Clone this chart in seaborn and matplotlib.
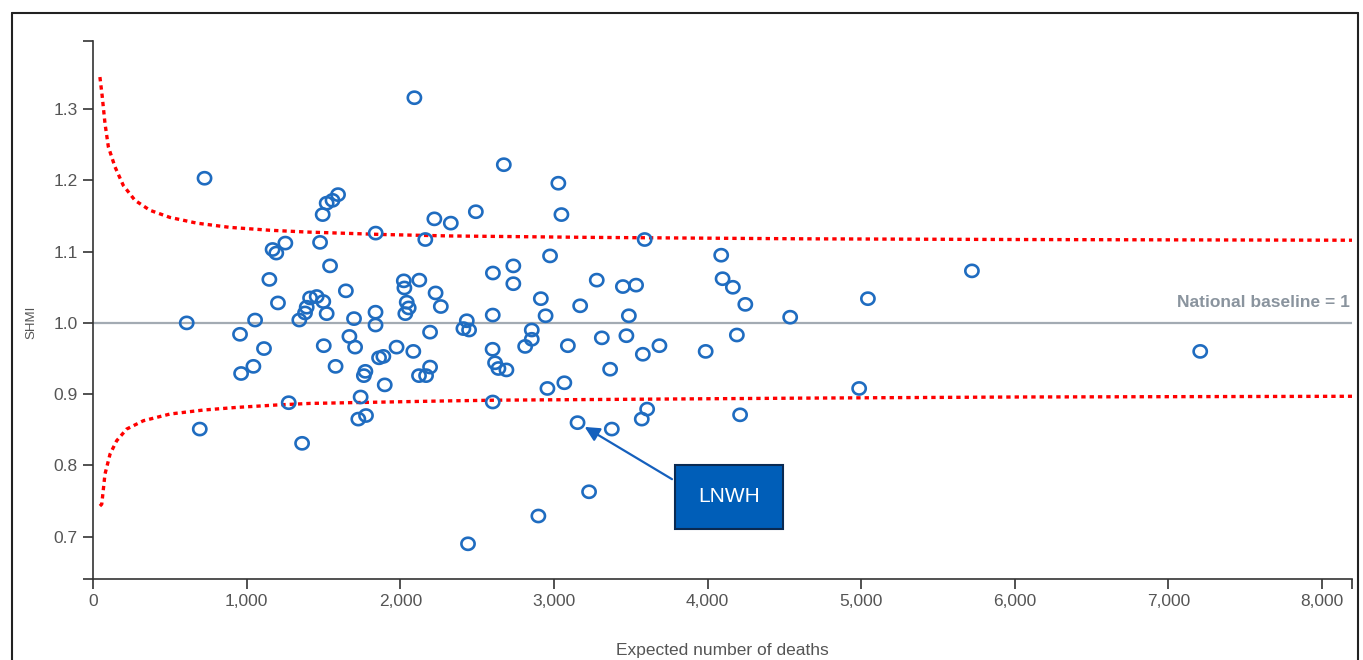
import matplotlib.pyplot as plt
import numpy as np
import seaborn as sns
from matplotlib.lines import Line2D
from matplotlib.path import Path
from matplotlib.ticker import FixedLocator

# values
expected_deaths = [610, 726, 695, 957, 964, 1044, 1055, 1113, 1148, 1169, 1193, 1252, 1204, 1274, 1361,
                   1343, 1380, 1391, 1413, 1456, 1499, 1521, 1478, 1495, 1521, 1559, 1595, 1543, 1502, 1579,
                   1646, 1669, 1699, 1706, 1727, 1742, 1763, 1773, 1777, 1840, 1839, 1839, 1862, 1890, 1899,
                   1976, 2023, 2027, 2033, 2042, 2055, 2085, 2092, 2124, 2122, 2168, 2163, 2194, 2194, 2222,
                   2230, 2264, 2329, 2411, 2433, 2448, 2492, 2441, 2603, 2601, 2602, 2602, 2617, 2639, 2674,
                   2691, 2736, 2736, 2813, 2856, 2856, 2899, 2915, 2946, 2958, 2975, 3029, 3049, 3068, 3091,
                   3171, 3154, 3229, 3279, 3312, 3366, 3377, 3449, 3472, 3488, 3535, 3579, 3572, 3591, 3607,
                   3687, 3988, 4089, 4098, 4165, 4191, 4212, 4246, 4538, 4987, 5044, 5721, 7207]
shmi = [1.000, 1.203, 0.851, 0.984, 0.929, 0.939, 1.004, 0.964, 1.061, 1.103, 1.098, 1.112, 1.028, 0.888, 0.831,
        1.004, 1.014, 1.022, 1.035, 1.037, 1.030, 1.013, 1.113, 1.152, 1.168, 1.172, 1.180, 1.080, 0.968, 0.939,
        1.045, 0.981, 1.006, 0.966, 0.865, 0.896, 0.926, 0.932, 0.870, 1.126, 1.015, 0.997, 0.951, 0.953, 0.913,
        0.966, 1.059, 1.049, 1.013, 1.029, 1.021, 0.960, 1.316, 1.060, 0.926, 0.926, 1.117, 0.987, 0.938, 1.146,
        1.042, 1.023, 1.140, 0.992, 1.003, 0.990, 1.156, 0.690, 1.070, 0.963, 1.011, 0.889, 0.944, 0.936, 1.222,
        0.934, 1.080, 1.055, 0.967, 0.990, 0.977, 0.729, 1.034, 1.010, 0.908, 1.094, 1.196, 1.152, 0.916, 0.968,
        1.024, 0.860, 0.763, 1.060, 0.979, 0.935, 0.851, 1.051, 0.982, 1.010, 1.053, 0.956, 0.865, 1.117, 0.879,
        0.968, 0.960, 1.095, 1.062, 1.050, 0.983, 0.871, 1.026, 1.008, 0.908, 1.034, 1.073, 0.960]

upper_x = [45, 60, 78, 100, 143, 197, 273, 371, 501, 675, 892, 1152, 1391, 1890, 2324, 3236, 4603, 6000, 8195]
upper_y = [1.345, 1.318, 1.280, 1.247, 1.219, 1.193, 1.172, 1.158, 1.148, 1.140, 1.134, 1.130, 1.1275, 1.124,
           1.122, 1.120, 1.118, 1.117, 1.116]
lower_x = [45, 57, 78, 111, 154, 219, 328, 501, 718, 935, 1196, 1413, 2324, 2650, 4603, 6000, 8195]
lower_y = [0.743, 0.7456, 0.7878, 0.8159, 0.8346, 0.851, 0.8627, 0.8721, 0.8777, 0.8814, 0.8848, 0.887,
           0.8906, 0.8916, 0.8944, 0.896, 0.897]

x_ticks = [0, 1000, 2000, 3000, 4000, 5000, 6000, 7000, 8000]
y_ticks = [0.7, 0.8, 0.9, 1.0, 1.1, 1.2, 1.3]
baseline = 1.0
lnwh_x, lnwh_y = 3154, 0.860

point_col = "#1F6CC0"
axis_col = "#333333"
tick_col = "#555555"

sns.set_style("white")
plt.rcParams['font.family'] = ['Liberation Sans', 'DejaVu Sans']

fig = plt.figure(figsize=(13.63, 6.6), dpi=100)
ax = fig.add_axes([93 / 1363, 1 - 579 / 660, 1259 / 1363, 538.3 / 660])

# reference line and funnel limits
ax.axhline(baseline, color="#A3ABB3", lw=1.6, zorder=1)
dots = (0, (1.3, 1.2))
sns.lineplot(x=upper_x, y=upper_y, color="red", lw=2.4, linestyle=dots, ax=ax, zorder=2)
sns.lineplot(x=lower_x, y=lower_y, color="red", lw=2.4, linestyle=dots, ax=ax, zorder=2)

# slightly squashed open circles like the original render
t = np.linspace(0, 2 * np.pi, 60)
ellipse = Path(np.column_stack([np.cos(t), 0.92 * np.sin(t)]), closed=True)
sns.scatterplot(x=expected_deaths, y=shmi, marker=ellipse, s=90, facecolor="none",
                edgecolor=point_col, linewidth=1.9, ax=ax, zorder=3)

ax.set_xlim(0, 8195)
ax.set_ylim(0.6406, 1.396)

ax.xaxis.set_major_locator(FixedLocator(x_ticks))
ax.set_xticklabels([f"{v:,}" for v in x_ticks])
ax.yaxis.set_major_locator(FixedLocator(y_ticks))
ax.set_yticklabels([f"{v:.1f}" for v in y_ticks])
# outer ticks at the ends of each axis
ax.xaxis.set_minor_locator(FixedLocator([8195]))
ax.yaxis.set_minor_locator(FixedLocator([0.6406, 1.396]))
ax.tick_params(which="both", length=7, width=1.2, color=axis_col, labelsize=12.5,
               labelcolor=tick_col, pad=4)
ax.tick_params(axis="x", which="both", bottom=True)
ax.tick_params(axis="y", which="both", left=True)

for side in ["top", "right"]:
    ax.spines[side].set_visible(False)
for side in ["left", "bottom"]:
    ax.spines[side].set_color(axis_col)
    ax.spines[side].set_linewidth(1.2)

ax.set_xlabel("Expected number of deaths", fontsize=12.5, color=tick_col)
ax.xaxis.label.set_va("center")
ax.xaxis.set_label_coords(0.5, (579 - 650) / 538.3)
ax.set_ylabel("SHMI", fontsize=9.5, color=tick_col)
ax.yaxis.label.set_va("center")
ax.yaxis.set_label_coords((31 - 93) / 1259, (579 - 322) / 538.3)

ax.annotate("National baseline = 1", xy=(1, baseline), xycoords=("axes fraction", "data"),
            xytext=(-1.5, 11.5), textcoords="offset points", ha="right", va="baseline",
            fontsize=12.5, fontweight="bold", color="#8A949E")

# LNWH call-out
ax.annotate("LNWH", xy=(lnwh_x, lnwh_y), xytext=(109, -53.5), textcoords="offset points",
            ha="center", va="center", fontsize=15, color="white",
            bbox=dict(boxstyle="square,pad=1.1", fc="#005EB8", ec="#0A2A52", lw=1.5),
            arrowprops=dict(arrowstyle="-|>", color="#1560BD", lw=1.6, shrinkB=6,
                            mutation_scale=22, relpos=(0, 0.615)),
            zorder=5)

# frame around the whole chart
for (x0, y0, x1, y1) in [(12, 13, 1358, 13), (12, 13, 12, 660), (1358, 13, 1358, 660)]:
    fig.add_artist(Line2D([x0 / 1363, x1 / 1363], [1 - y0 / 660, 1 - y1 / 660],
                          color="#222222", lw=1.5, transform=fig.transFigure))

fig.savefig("out.png", dpi=100)
